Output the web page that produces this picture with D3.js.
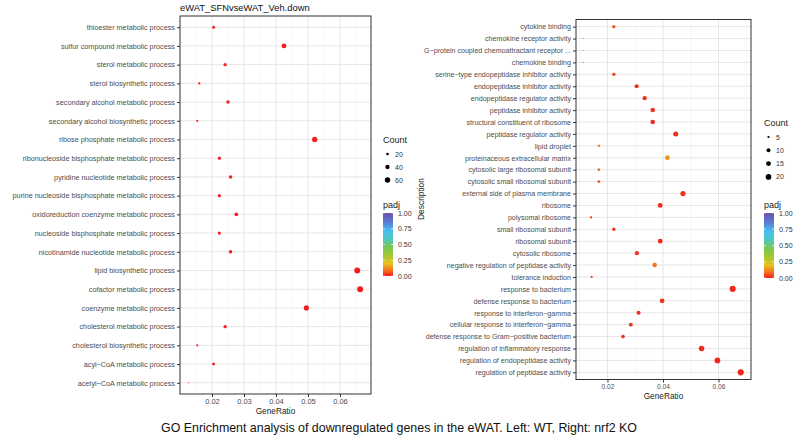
<!DOCTYPE html>
<html><head><meta charset="utf-8">
<script src="https://cdn.jsdelivr.net/npm/d3@7"></script>
<style>body{margin:0;background:#fff}svg{display:block;font-family:"Liberation Sans",Arial,sans-serif}</style>
</head><body><svg id="c" width="799" height="435"></svg>
<script>
// ---------- DATA ----------
const leftTitle = "eWAT_SFNvseWAT_Veh.down";
const leftTerms = ["thioester metabolic process","sulfur compound metabolic process","sterol metabolic process","sterol biosynthetic process","secondary alcohol metabolic process","secondary alcohol biosynthetic process","ribose phosphate metabolic process","ribonucleoside bisphosphate metabolic process","pyridine nucleotide metabolic process","purine nucleoside bisphosphate metabolic process","oxidoreduction coenzyme metabolic process","nucleoside bisphosphate metabolic process","nicotinamide nucleotide metabolic process","lipid biosynthetic process","cofactor metabolic process","coenzyme metabolic process","cholesterol metabolic process","cholesterol biosynthetic process","acyl\u2212CoA metabolic process","acetyl\u2212CoA metabolic process"];
const leftRatio = [0.0205,0.0425,0.0241,0.0160,0.0250,0.0154,0.0521,0.0223,0.0258,0.0223,0.0276,0.0223,0.0258,0.0654,0.0663,0.0495,0.0241,0.0154,0.0205,0.0127];
const leftCount = [23,47,27,18,28,17,58,25,29,25,31,25,29,73,74,55,27,17,23,14];
const leftPadj  = [0.005,0.001,0.004,0.01,0.004,0.01,0.001,0.006,0.004,0.006,0.003,0.006,0.004,0.0005,0.0005,0.001,0.004,0.01,0.005,0.015];
const leftXTicks = [0.02,0.03,0.04,0.05,0.06];
const leftSizeBreaks = [20,40,60];

const rightTerms = ["cytokine binding","chemokine receptor activity","G\u2212protein coupled chemoattractant receptor ...","chemokine binding","serine\u2212type endopeptidase inhibitor activity","endopeptidase inhibitor activity","endopeptidase regulator activity","peptidase inhibitor activity","structural constituent of ribosome","peptidase regulator activity","lipid droplet","proteinaceous extracellular matrix","cytosolic large ribosomal subunit","cytosolic small ribosomal subunit","external side of plasma membrane","ribosome","polysomal ribosome","small ribosomal subunit","ribosomal subunit","cytosolic ribosome","negative regulation of peptidase activity","tolerance induction","response to bacterium","defense response to bacterium","response to interferon\u2212gamma","cellular response to interferon\u2212gamma","defense response to Gram\u2212positive bacterium","regulation of inflammatory response","regulation of endopeptidase activity","regulation of peptidase activity"];
const rightRatio = [0.0223,0.0113,0.0113,0.0113,0.0223,0.0305,0.0334,0.0363,0.0363,0.0446,0.0169,0.0416,0.0169,0.0169,0.0472,0.0390,0.0141,0.0223,0.0390,0.0306,0.0370,0.0143,0.0651,0.0397,0.0312,0.0284,0.0256,0.0539,0.0596,0.0680];
const rightCount = [8,4,4,4,8,11,12,13,13,16,6,15,6,6,17,14,5,8,14,11,13,5,23,14,11,10,9,19,21,24];
const rightPadj  = [0.06,0.08,0.08,0.08,0.04,0.02,0.02,0.02,0.01,0.02,0.13,0.14,0.09,0.05,0.02,0.01,0.03,0.02,0.01,0.02,0.09,0.04,0.01,0.02,0.02,0.02,0.02,0.01,0.01,0.01];
const rightXTicks = [0.02,0.04,0.06];
const rightSizeBreaks = [5,10,15,20];

const padjBreaks = [0,0.25,0.5,0.75,1];
const padjStops  = [0,0.1,0.2,0.32,0.45,0.6,0.72,0.86,1];
const padjColors = ["#F21E1E","#F27A1E","#E6C21E","#A4C832","#7CC850","#4CC8C8","#48BEF0","#5A7AD4","#6C4EA6"];
const caption = "GO Enrichment analysis of downregulated genes in the eWAT. Left: WT, Right: nrf2 KO";

// ---------- DRAW ----------
const svg = d3.select("#c");
const color = d3.scaleLinear().domain(padjStops).range(padjColors).clamp(true);

function panel(o){
  const g = svg.append("g");
  const x = d3.scaleLinear().domain(o.xDomain).range([o.x0,o.x1]);
  const y = d3.scalePoint().domain(o.terms).range([o.y0,o.y1]).padding(0.6);
  const cmin = d3.min(o.count), cmax = d3.max(o.count);
  const r = c => o.rMin + (o.rMax-o.rMin)*Math.sqrt(Math.max(0,(c-cmin)/(cmax-cmin)));
  const minor = d3.range(Math.ceil(o.xDomain[0]/o.minorStep), Math.floor(o.xDomain[1]/o.minorStep)+1)
     .map(i=>i*o.minorStep).filter(v=>!o.xTicks.some(t=>Math.abs(t-v)<1e-9));
  g.selectAll(".mn").data(minor).join("line")
    .attr("x1",d=>x(d)).attr("x2",d=>x(d)).attr("y1",o.y0).attr("y2",o.y1)
    .attr("stroke","#F3F3F3").attr("stroke-width",0.6);
  g.selectAll(".mj").data(o.xTicks).join("line")
    .attr("x1",d=>x(d)).attr("x2",d=>x(d)).attr("y1",o.y0).attr("y2",o.y1)
    .attr("stroke","#E6E6E6").attr("stroke-width",1);
  g.selectAll(".hy").data(o.terms).join("line")
    .attr("x1",o.x0).attr("x2",o.x1).attr("y1",d=>y(d)).attr("y2",d=>y(d))
    .attr("stroke","#E6E6E6").attr("stroke-width",1);
  g.selectAll("circle.pt").data(o.terms).join("circle")
    .attr("cx",(d,i)=>x(o.ratio[i])).attr("cy",d=>y(d))
    .attr("r",(d,i)=>r(o.count[i])).attr("fill",(d,i)=>color(o.padj[i]));
  g.append("rect").attr("x",o.x0).attr("y",o.y0).attr("width",o.x1-o.x0).attr("height",o.y1-o.y0)
    .attr("fill","none").attr("stroke","#333").attr("stroke-width",1);
  const ax = g.append("g").attr("transform",`translate(0,${o.y1})`)
    .call(d3.axisBottom(x).tickValues(o.xTicks).tickFormat(d3.format(".2f")).tickSize(3).tickPadding(2));
  const ay = g.append("g").attr("transform",`translate(${o.x0},0)`)
    .call(d3.axisLeft(y).tickSize(3).tickPadding(2));
  [ax,ay].forEach((a,k)=>{
    a.select(".domain").remove();
    a.selectAll(".tick line").attr("stroke","#333");
    a.selectAll(".tick text").attr("fill","#4D4D4D").style("font-size",(k===0?o.tfs:o.fs)+"px").style("font-family","Liberation Sans, Arial, sans-serif");
  });
  g.append("text").attr("x",(o.x0+o.x1)/2).attr("y",o.y1+19.5).attr("text-anchor","middle")
    .style("font-size","8.3px").attr("fill","#222").text("GeneRatio");
  const lg = g.append("g");
  lg.append("text").attr("x",o.legX).attr("y",o.cntY).style("font-size","9px").attr("fill","#222").text("Count");
  lg.selectAll("circle").data(o.sizeBreaks).join("circle")
    .attr("cx",o.legX+4.5).attr("cy",(d,i)=>o.cntY+11+i*o.cntStep).attr("r",d=>r(d)).attr("fill","#000");
  lg.selectAll("text.l").data(o.sizeBreaks).join("text").attr("class","l")
    .attr("x",o.legX+12).attr("y",(d,i)=>o.cntY+13.5+i*o.cntStep).style("font-size","7px").attr("fill","#333").text(d=>d);
  const by0 = o.barY0, by1 = o.barY1;
  const gid = "grad"+o.id;
  const grad = svg.append("defs").append("linearGradient").attr("id",gid).attr("x1",0).attr("y1",1).attr("x2",0).attr("y2",0);
  grad.selectAll("stop").data(padjStops).join("stop").attr("offset",d=>d).attr("stop-color",d=>color(d));
  lg.append("text").attr("x",o.legX).attr("y",by0-5).style("font-size","9px").attr("fill","#222").text("padj");
  lg.append("rect").attr("x",o.legX).attr("y",by0).attr("width",10).attr("height",by1-by0).attr("fill",`url(#${gid})`);
  const cy = d3.scaleLinear().domain([0,1]).range([by1,by0]);
  lg.selectAll("line.bt").data(padjBreaks).join("line").attr("class","bt")
    .attr("x1",o.legX).attr("x2",o.legX+2).attr("y1",d=>cy(d)).attr("y2",d=>cy(d)).attr("stroke","#fff").attr("stroke-width",0.6);
  lg.selectAll("line.bt2").data(padjBreaks).join("line").attr("class","bt2")
    .attr("x1",o.legX+8).attr("x2",o.legX+10).attr("y1",d=>cy(d)).attr("y2",d=>cy(d)).attr("stroke","#fff").attr("stroke-width",0.6);
  lg.selectAll("text.pl").data(padjBreaks).join("text").attr("class","pl")
    .attr("x",o.legX+15).attr("y",d=>cy(d)+2.5).style("font-size","7px").attr("fill","#333").text(d=>d.toFixed(2));
  return g;
}

panel({id:"L",terms:leftTerms,ratio:leftRatio,count:leftCount,padj:leftPadj,xTicks:leftXTicks,sizeBreaks:leftSizeBreaks,
  xDomain:[0.01,0.0697],x0:180,x1:371,y0:16,y1:394,minorStep:0.005,rMin:0.55,rMax:3.0,fs:7.25,tfs:7.5,
  legX:383,cntY:143,cntStep:13,barY0:213,barY1:276});
panel({id:"R",terms:rightTerms,ratio:rightRatio,count:rightCount,padj:rightPadj,xTicks:rightXTicks,sizeBreaks:rightSizeBreaks,
  xDomain:[0.00867,0.0717],x0:576,x1:751,y0:19.5,y1:379.5,minorStep:0.01,rMin:0.55,rMax:3.1,fs:7.1,tfs:6.6,
  legX:764,cntY:126,cntStep:13.3,barY0:213,barY1:278});

svg.append("text").attr("x",180).attr("y",11).style("font-size","9.4px").attr("fill","#111").text(leftTitle);
svg.append("text").attr("transform","translate(424,199) rotate(-90)").attr("text-anchor","middle")
  .style("font-size","8.4px").attr("fill","#222").text("Description");
svg.append("text").attr("x",399).attr("y",432).attr("text-anchor","middle").style("font-size","12.4px").attr("fill","#111").text(caption);
</script></body></html>
